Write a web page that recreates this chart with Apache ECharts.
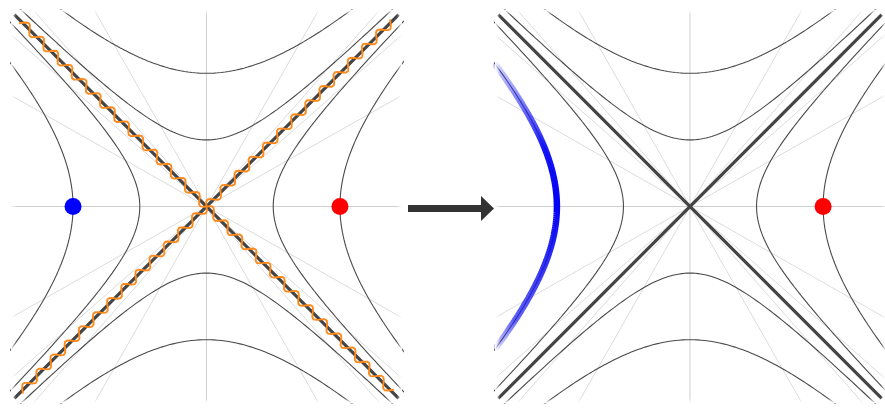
<!DOCTYPE html>
<html>
<head>
<meta charset="utf-8">
<script src="https://cdn.jsdelivr.net/npm/echarts@6/dist/echarts.min.js"></script>
<style>
html,body{margin:0;padding:0;background:#fff;}
#chart{width:885px;height:412px;}
</style>
</head>
<body>
<div id="chart"></div>
<script>
// ---- data (units of the diagram) ----
const hyperbolaA = [1, 2];              // x^2 - y^2 = a^2 and y^2 - x^2 = a^2
const raySlopes = [0.57, 0.88];         // light constant-rapidity lines (and reciprocals)
const leftDots = [[-2, 0, 'blue'], [2, 0, 'red']];
const rightDots = [[2, 0, 'red']];
const blueArcA = 2;                      // highlighted branch on the right panel
const blueArcY = [2.12, -2.1];           // vertical extent of highlighted branch
const asymExtent = 2.88;
const waveAmplitude = 0.065;
const wavePeriod = 0.30;
const waveExtent = 2.78;
const rangeX = 2.93, rangeY = 2.95;

// ---- build curves ----
function hyperbola(a, branch) {
  const pts = [];
  const tMax = Math.asinh(rangeY / a) + 0.2;
  for (let i = 0; i <= 200; i++) {
    const t = -tMax + 2 * tMax * i / 200;
    const c = a * Math.cosh(t), s = a * Math.sinh(t);
    if (branch === 'R') pts.push([c, s]);
    if (branch === 'L') pts.push([-c, s]);
    if (branch === 'T') pts.push([s, c]);
    if (branch === 'B') pts.push([s, -c]);
  }
  return pts;
}
function blueArc() {
  const pts = [];
  const t0 = Math.asinh(blueArcY[0] / blueArcA), t1 = Math.asinh(blueArcY[1] / blueArcA);
  for (let i = 0; i <= 120; i++) {
    const t = t0 + (t1 - t0) * i / 120;
    pts.push([-blueArcA * Math.cosh(t), blueArcA * Math.sinh(t)]);
  }
  return pts;
}
function wave(sign) {
  const pts = [];
  const L = waveExtent * Math.SQRT2;
  const n = Math.round(2 * L / (wavePeriod / 16));
  for (let i = 0; i <= n; i++) {
    const u = -L + 2 * L * i / n;
    const w = waveAmplitude * Math.sin(2 * Math.PI * u / wavePeriod);
    const x = (u - sign * w) / Math.SQRT2;
    const y = (sign * u + w) / Math.SQRT2;
    pts.push([x, y]);
  }
  return pts;
}

function lineSeries(idx, data, color, width, z, extra) {
  return Object.assign({
    type: 'line', xAxisIndex: idx, yAxisIndex: idx, data: data,
    showSymbol: false, symbol: 'none', smooth: false, silent: true, animation: false,
    lineStyle: { color: color, width: width }, z: z, clip: true
  }, extra || {});
}

const blueGradient = {
  type: 'linear', x: 0, y: 0, x2: 0, y2: 1,
  colorStops: [
    { offset: 0, color: 'rgba(60,60,255,0.2)' },
    { offset: 0.12, color: 'rgba(40,40,250,0.55)' },
    { offset: 0.3, color: 'rgba(10,10,245,0.95)' },
    { offset: 0.5, color: 'rgba(0,0,245,1)' },
    { offset: 0.72, color: 'rgba(20,20,240,0.85)' },
    { offset: 0.9, color: 'rgba(30,30,240,0.7)' },
    { offset: 1, color: 'rgba(60,60,255,0.2)' }
  ]
};

const series = [];
[0, 1].forEach(idx => {
  series.push(lineSeries(idx, [[-rangeX, 0], [rangeX, 0]], '#cfcfcf', 1, 1));
  series.push(lineSeries(idx, [[0, -rangeY], [0, rangeY]], '#cfcfcf', 1, 1));
  raySlopes.forEach(s => {
    [1, -1].forEach(sg => {
      series.push(lineSeries(idx, [[-rangeX, -sg * s * rangeX], [rangeX, sg * s * rangeX]], '#dcdcdc', 1, 1));
      series.push(lineSeries(idx, [[-rangeY * s, -sg * rangeY], [rangeY * s, sg * rangeY]], '#dcdcdc', 1, 1));
    });
  });
  hyperbolaA.forEach(a => {
    ['R', 'L', 'T', 'B'].forEach(b => series.push(lineSeries(idx, hyperbola(a, b), '#4a4a4a', 1.1, 3)));
  });
  if (idx === 1) {
    series.push(lineSeries(idx, blueArc(), blueGradient, 6.5, 4, { lineStyle: { width: 6.5, cap: 'round', color: blueGradient } }));
  }
  series.push(lineSeries(idx, [[-asymExtent, -asymExtent], [asymExtent, asymExtent]], '#444444', 3.2, 4));
  series.push(lineSeries(idx, [[-asymExtent, asymExtent], [asymExtent, -asymExtent]], '#444444', 3.2, 4));
  if (idx === 0) {
    series.push(lineSeries(idx, wave(1), '#ff8a1c', 1.9, 5));
    series.push(lineSeries(idx, wave(-1), '#ff8a1c', 1.9, 5));
  }
  const dots = idx === 0 ? leftDots : rightDots;
  dots.forEach(d => {
    series.push({
      type: 'scatter', xAxisIndex: idx, yAxisIndex: idx, data: [[d[0], d[1]]],
      symbol: 'circle', symbolSize: 17, silent: true, animation: false,
      itemStyle: { color: d[2] === 'blue' ? '#0000ff' : '#ff0000', opacity: 1 }, z: 6
    });
  });
});

function fadeFrame(x0, y0, w, h, f) {
  const white = 'rgba(255,255,255,1)', clear = 'rgba(255,255,255,0)';
  return [
    { type: 'rect', shape: { x: x0, y: y0, width: w, height: f }, style: { fill: new echarts.graphic.LinearGradient(0, 0, 0, 1, [{ offset: 0, color: white }, { offset: 1, color: clear }]) }, z: 20, silent: true },
    { type: 'rect', shape: { x: x0, y: y0 + h - f, width: w, height: f }, style: { fill: new echarts.graphic.LinearGradient(0, 0, 0, 1, [{ offset: 0, color: clear }, { offset: 1, color: white }]) }, z: 20, silent: true },
    { type: 'rect', shape: { x: x0, y: y0, width: f, height: h }, style: { fill: new echarts.graphic.LinearGradient(0, 0, 1, 0, [{ offset: 0, color: white }, { offset: 1, color: clear }]) }, z: 20, silent: true },
    { type: 'rect', shape: { x: x0 + w - f, y: y0, width: f, height: h }, style: { fill: new echarts.graphic.LinearGradient(0, 0, 1, 0, [{ offset: 0, color: clear }, { offset: 1, color: white }]) }, z: 20, silent: true }
  ];
}

const axisCommon = { type: 'value', show: false, splitLine: { show: false } };
const option = {
  backgroundColor: '#ffffff',
  animation: false,
  grid: [
    { left: 11, top: 10, width: 391, height: 393 },
    { left: 495, top: 10, width: 391, height: 393 }
  ],
  xAxis: [
    Object.assign({ gridIndex: 0, min: -rangeX, max: rangeX }, axisCommon),
    Object.assign({ gridIndex: 1, min: -rangeX, max: rangeX }, axisCommon)
  ],
  yAxis: [
    Object.assign({ gridIndex: 0, min: -rangeY, max: rangeY }, axisCommon),
    Object.assign({ gridIndex: 1, min: -rangeY, max: rangeY }, axisCommon)
  ],
  series: series,
  graphic: [
    { type: 'rect', shape: { x: 408, y: 205, width: 75, height: 7 }, style: { fill: '#333333' }, z: 10 },
    { type: 'polygon', shape: { points: [[481, 196], [494, 208.5], [481, 221]] }, style: { fill: '#333333' }, z: 10 }
  ].concat(fadeFrame(11, 10, 391, 393, 5)).concat(fadeFrame(495, 10, 391, 393, 5))
};
const chart = echarts.init(document.getElementById('chart'), null, { renderer: 'canvas' });
chart.setOption(option);
</script>
</body>
</html>
